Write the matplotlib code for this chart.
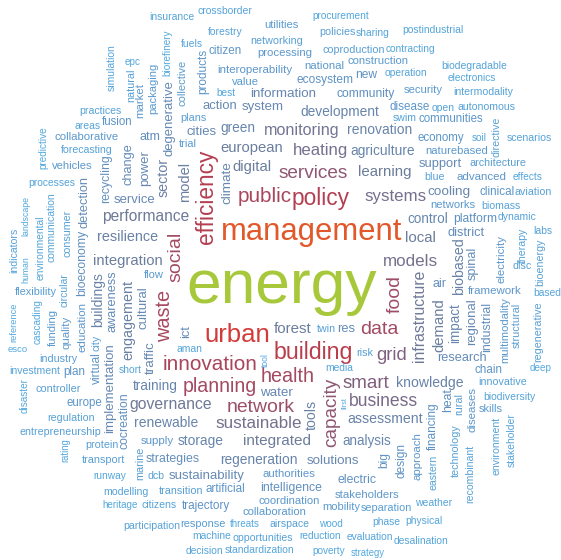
import numpy as np
import matplotlib
matplotlib.use("Agg")
import matplotlib.pyplot as plt
from matplotlib.colors import to_rgb

# word, x, y, length in px (horizontal words)
top_words = [
    ("insurance", 172, 17, 45), ("crossborder", 225, 11, 55), ("procurement", 341, 16, 57),
    ("utilities", 281, 25, 34), ("forestry", 225, 32, 35), ("policies", 337, 32, 36),
    ("sharing", 373, 33, 34), ("postindustrial", 433, 30, 61), ("fuels", 192, 44, 22),
    ("networking", 277, 41, 52), ("citizen", 225, 51, 33), ("processing", 285, 53, 55),
    ("coproduction", 354, 50, 62), ("contracting", 410, 49, 50), ("construction", 378, 61, 61),
    ("epc", 133, 62, 16), ("biodegradable", 474, 66, 66), ("interoperability", 255, 70, 75),
    ("national", 324, 66, 40), ("new", 366, 75, 22), ("operation", 406, 73, 43),
    ("electronics", 472, 78, 49), ("value", 245, 82, 27), ("ecosystem", 325, 80, 57),
    ("best", 226, 93, 19), ("information", 283, 94, 67), ("community", 366, 94, 59),
    ("security", 423, 90, 39), ("intermodality", 483, 92, 60), ("action", 220, 106, 35),
    ("system", 263, 107, 42), ("development", 340, 112, 79), ("disease", 410, 107, 40),
    ("open", 443, 108, 23), ("autonomous", 487, 107, 58), ("practices", 100, 111, 42),
    ("plans", 193, 118, 26), ("swim", 405, 118, 24), ("communities", 451, 119, 65),
    ("fusion", 117, 122, 31), ("areas", 88, 126, 26), ("cities", 202, 132, 30),
    ("green", 238, 128, 35), ("monitoring", 302, 130, 76), ("renovation", 380, 130, 65),
    ("collaborative", 87, 137, 64), ("atm", 150, 137, 21), ("economy", 441, 138, 47),
    ("soil", 479, 138, 15), ("scenarios", 529, 138, 45), ("trial", 188, 144, 18),
    ("european", 252, 148, 63), ("forecasting", 87, 150, 52), ("heating", 321, 151, 55),
    ("agriculture", 383, 151, 65), ("naturebased", 457, 151, 63), ("architecture", 498, 163, 57),
    ("support", 440, 164, 43), ("vehicles", 72, 166, 41), ("digital", 252, 167, 39),
    ("services", 313, 173, 70), ("learning", 385, 172, 54), ("blue", 435, 177, 20),
    ("advanced", 482, 177, 50), ("effects", 528, 177, 30), ("processes", 52, 183, 47),
]

mid_words = [
    ("cooling", 449, 192, 43), ("clinical", 497, 192, 35), ("aviation", 533, 192, 37),
    ("systems", 396, 196, 62), ("public", 265, 197, 54), ("policy", 321, 199, 58),
    ("service", 134, 200, 42), ("networks", 453, 205, 45), ("biomass", 501, 206, 39),
    ("performance", 146, 217, 88), ("dynamic", 517, 217, 39), ("control", 428, 219, 41),
    ("platform", 475, 219, 44), ("management", 312, 232, 182), ("labs", 543, 231, 19),
    ("district", 466, 233, 37), ("resilience", 128, 237, 61), ("local", 420, 238, 31),
    ("integration", 128, 261, 70), ("models", 410, 262, 55), ("disc", 522, 266, 19),
    ("flow", 154, 275, 20), ("air", 440, 284, 14), ("energy", 282, 287, 192),
    ("flexibility", 36, 292, 42), ("framework", 495, 291, 54), ("based", 547, 293, 28),
    ("forest", 293, 329, 38), ("twin", 326, 329, 19), ("res", 346, 329, 18),
    ("data", 379, 330, 38), ("urban", 237, 335, 66), ("aman", 189, 349, 26),
    ("esco", 18, 350, 20), ("building", 313, 352, 80), ("risk", 365, 353, 17),
    ("grid", 392, 356, 31), ("research", 462, 358, 50), ("industry", 58, 359, 38),
    ("innovation", 210, 365, 95), ("media", 339, 368, 28), ("deep", 541, 368, 22),
    ("chain", 489, 370, 28), ("short", 130, 370, 23), ("investment", 35, 371, 51),
    ("plan", 74, 372, 22),
]

bottom_words = [
    ("health", 288, 377, 54), ("innovative", 503, 382, 48), ("smart", 366, 383, 47),
    ("knowledge", 430, 383, 67), ("training", 155, 386, 45), ("planning", 220, 386, 74),
    ("controller", 58, 389, 45), ("water", 276, 393, 33), ("biodiversity", 509, 397, 52),
    ("business", 383, 402, 69), ("europe", 84, 403, 36), ("governance", 171, 405, 83),
    ("network", 261, 407, 68), ("skills", 491, 409, 24), ("regulation", 71, 418, 47),
    ("assessment", 385, 419, 75), ("renewable", 166, 423, 64), ("sustainable", 259, 424, 86),
    ("entrepreneurship", 60, 432, 81), ("supply", 157, 441, 33), ("storage", 201, 441, 46),
    ("integrated", 277, 441, 68), ("analysis", 367, 441, 49), ("protein", 102, 445, 33),
    ("strategies", 173, 459, 54), ("transport", 103, 460, 43), ("regeneration", 259, 460, 78),
    ("solutions", 333, 461, 53), ("authorities", 289, 474, 53), ("sustainability", 207, 476, 75),
    ("dcb", 156, 476, 17), ("runway", 110, 476, 33), ("electric", 357, 480, 39),
    ("artificial", 225, 489, 40), ("intelligence", 291, 488, 62), ("transition", 181, 491, 44),
    ("modelling", 126, 492, 45), ("stakeholders", 367, 495, 65), ("coordination", 289, 501, 62),
    ("weather", 434, 503, 37), ("heritage", 120, 505, 36), ("citizens", 159, 505, 35),
    ("trajectory", 206, 506, 49), ("mobility", 341, 507, 38), ("separation", 386, 508, 51),
    ("collaboration", 274, 512, 64), ("physical", 424, 521, 37), ("phase", 386, 522, 28),
    ("participation", 152, 526, 57), ("response", 203, 524, 45), ("threats", 245, 524, 30),
    ("airspace", 290, 524, 40), ("wood", 331, 524, 24), ("machine", 212, 536, 39),
    ("opportunities", 263, 538, 60), ("reduction", 320, 536, 42), ("evaluation", 370, 537, 47),
    ("desalination", 421, 541, 55), ("decision", 204, 551, 38), ("standardization", 260, 550, 70),
    ("poverty", 329, 551, 33), ("strategy", 368, 553, 34),
]

# vertical words (read bottom to top)
left_vertical = [
    ("biorefinery", 167, 53, 47), ("simulation", 112, 68, 47), ("products", 203, 71, 45),
    ("natural", 131, 85, 33), ("collective", 183, 83, 46), ("packaging", 153, 88, 51),
    ("market", 140, 101, 35), ("degenerative", 170, 118, 76), ("predictive", 43, 148, 43),
    ("change", 129, 164, 42), ("power", 145, 168, 36), ("recycling", 106, 179, 49),
    ("sector", 164, 177, 39), ("model", 185, 182, 40), ("climate", 227, 183, 43),
    ("efficiency", 207, 197, 95), ("detection", 85, 202, 52), ("landscape", 26, 216, 40),
    ("communication", 52, 227, 70), ("consumer", 68, 233, 47), ("environmental", 41, 248, 65),
    ("indicators", 14, 250, 45), ("social", 176, 257, 50), ("bioeconomy", 82, 263, 66),
    ("human", 26, 270, 27), ("circular", 65, 290, 34), ("buildings", 98, 300, 55),
    ("awareness", 113, 301, 62), ("cultural", 144, 308, 43), ("waste", 165, 316, 52),
    ("engagement", 128, 320, 80), ("cascading", 38, 322, 45), ("reference", 14, 322, 40),
    ("education", 83, 327, 50), ("funding", 53, 327, 37), ("quality", 67, 332, 33),
    ("ict", 186, 332, 13), ("city", 97, 343, 16), ("traffic", 151, 358, 33),
    ("tool", 265, 360, 14), ("virtual", 97, 368, 32), ("implementation", 110, 388, 90),
    ("disaster", 25, 396, 35), ("cocreation", 125, 421, 57), ("rating", 65, 450, 24),
    ("marine", 140, 463, 33),
]

right_vertical = [
    ("directive", 497, 137, 40), ("therapy", 523, 245, 35), ("biobased", 459, 266, 57),
    ("spinal", 473, 263, 33), ("electricity", 502, 259, 48), ("bioenergy", 540, 262, 47),
    ("food", 395, 294, 38), ("infrastructure", 420, 316, 93), ("demand", 439, 325, 54),
    ("impact", 455, 323, 40), ("regional", 472, 322, 47), ("industrial", 487, 327, 50),
    ("multimodality", 505, 330, 66), ("structural", 517, 325, 45), ("regenerative", 538, 332, 60),
    ("tools", 312, 415, 30), ("first", 345, 403, 12), ("capacity", 332, 412, 70),
    ("heat", 448, 400, 24), ("rural", 459, 404, 22), ("diseases", 473, 410, 45),
    ("financing", 433, 426, 48), ("stakeholder", 512, 440, 54), ("environment", 497, 446, 58),
    ("technology", 456, 451, 52), ("approach", 418, 456, 48), ("design", 402, 461, 35),
    ("big", 384, 460, 16), ("eastern", 434, 472, 35), ("recombinant", 470, 474, 58),
]

# colour ramp by font size (em in px)
ramp_size = [10.0, 11.5, 13.0, 15.0, 17.0, 18.7, 19.5, 22.5, 25.0, 31.0, 60.0]
ramp_col = ["#52a8de", "#5c96ca", "#6589b5", "#6b7d9c", "#76708d", "#7f5f7e",
            "#a44a63", "#b23f52", "#d1373c", "#e2582a", "#a6c83a"]
ramp_rgb = np.array([to_rgb(c) for c in ramp_col])


def word_color(em):
    return tuple(np.interp(em, ramp_size, ramp_rgb[:, k]) for k in range(3))


fig = plt.figure(figsize=(5.61, 5.60), dpi=100)
ax = fig.add_axes([0, 0, 1, 1])
ax.set_xlim(0, 561)
ax.set_ylim(560, 0)
ax.axis("off")
renderer = fig.canvas.get_renderer()

groups = [(top_words, 0), (mid_words, 0), (bottom_words, 0),
          (left_vertical, 90), (right_vertical, 90)]
for words, rot in groups:
    for w, x, y, span in words:
        t = ax.text(x, y, w, fontsize=10, rotation=rot, ha="center", va="center",
                    family="Liberation Sans")
        bb = t.get_window_extent(renderer)
        length = bb.width if rot == 0 else bb.height
        fs = 10 * span / length
        t.set_fontsize(fs)
        t.set_color(word_color(fs * 100 / 72))

fig.savefig("out.png", dpi=100, facecolor="white")
